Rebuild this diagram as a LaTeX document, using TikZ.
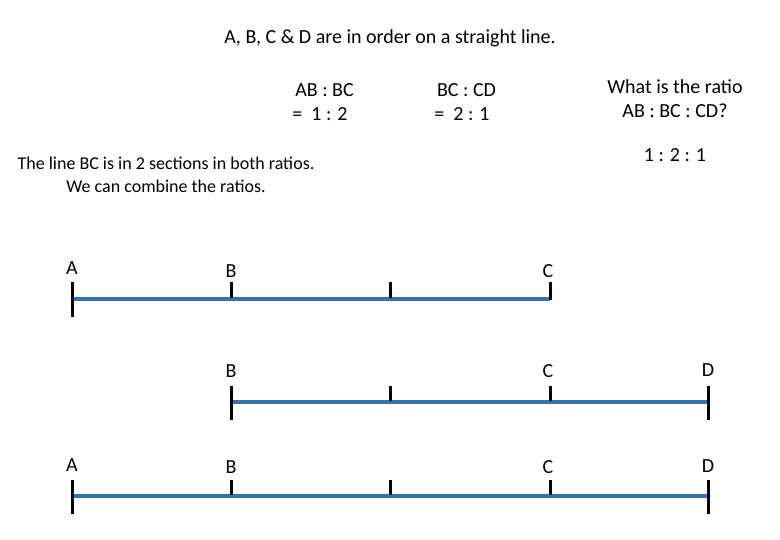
\documentclass[tikz,border=0pt]{standalone}
\usepackage{fontspec}
\setmainfont{Carlito}
\definecolor{barblue}{HTML}{2E74B5}
\begin{document}
\begin{tikzpicture}[x=1pt,y=-1pt,
  txt/.style={font=\fontsize{20}{24}\selectfont, inner sep=0pt, align=center},
  bar/.style={barblue, line width=4.5pt},
  tk/.style={black, line width=3pt}]
\useasboundingbox (0,0) rectangle (780,540);
\node[txt] (title) at (390,38) {A, B, C \& D are in order on a straight line.};
\node[txt] (r1) at (320,102) {\ \ AB : BC\\= \ 1 : 2};
\node[txt] (r2) at (462,102) {\ \ BC : CD\\= \ 2 : 1};
\node[txt] (q) at (675,99) {What is the ratio\\AB : BC : CD?};
\node[txt] (ans) at (675,155) {1 : 2 : 1};
\node[txt, font=\fontsize{18}{23}\selectfont] (note) at (166,175) {The line BC is in 2 sections in both ratios.\\We can combine the ratios.};
% row 1
\coordinate (a1) at (72,299); \coordinate (c1) at (550,299);
\draw[bar] (a1) -- (c1);
\draw[tk] (72,282) -- (72,317);
\draw[tk] (231,282) -- (231,298);
\draw[tk] (390,282) -- (390,298);
\draw[tk] (550,282) -- (550,300);
\node[txt] (lA1) at (72,268) {A};
\node[txt] (lB1) at (231,271) {B};
\node[txt] (lC1) at (548,271) {C};
% row 2
\coordinate (b2) at (231,402); \coordinate (d2) at (708,402);
\draw[bar] (b2) -- (d2);
\draw[tk] (231,386) -- (231,420);
\draw[tk] (390,386) -- (390,401);
\draw[tk] (550,386) -- (550,401);
\draw[tk] (708,386) -- (708,420);
\node[txt] (lB2) at (231,371) {B};
\node[txt] (lC2) at (548,371) {C};
\node[txt] (lD2) at (708,370) {D};
% row 3
\coordinate (a3) at (72,496); \coordinate (d3) at (708,496);
\draw[bar] (a3) -- (d3);
\draw[tk] (72,480) -- (72,514);
\draw[tk] (231,480) -- (231,495);
\draw[tk] (390,480) -- (390,495);
\draw[tk] (550,480) -- (550,495);
\draw[tk] (708,480) -- (708,514);
\node[txt] (lA3) at (72,465) {A};
\node[txt] (lB3) at (231,467) {B};
\node[txt] (lC3) at (548,467) {C};
\node[txt] (lD3) at (708,466) {D};
\end{tikzpicture}
\end{document}
